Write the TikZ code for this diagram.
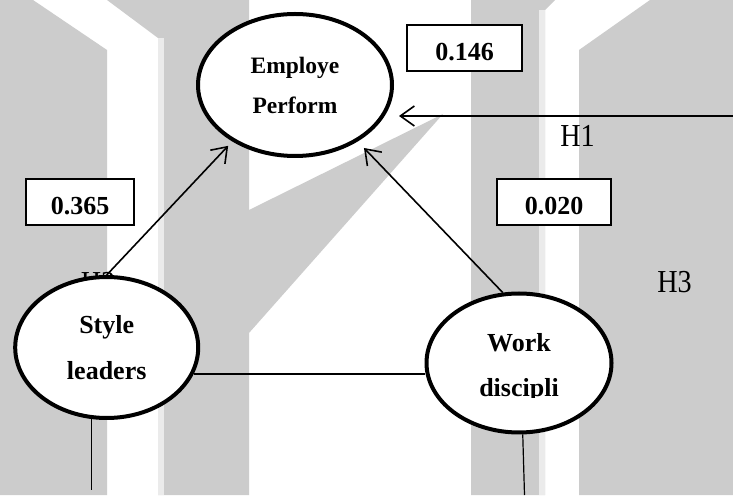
\documentclass[tikz,border=0pt]{standalone}
\usepackage{fontspec}
\setmainfont{Liberation Serif}
\usetikzlibrary{arrows.meta,shapes.geometric}
\definecolor{wmgray}{HTML}{CCCCCC}
\definecolor{wmlight}{HTML}{EBEBEB}
\tikzset{
  ellip/.style={ellipse, draw, line width=4pt, fill=white, inner sep=0pt, align=center},
  valbox/.style={rectangle, draw, line width=2.3pt, fill=white, inner sep=0pt,
    font=\bfseries\fontsize{26}{30}\selectfont, text height=26pt, text depth=0pt},
  hyp/.style={font=\fontsize{32}{36}\selectfont, inner sep=0pt},
  arr/.style={line width=1.6pt, -{Straight Barb[length=14pt,width=20pt]}},
  conn/.style={line width=1.3pt},
  thinl/.style={line width=1.2pt}
}
\begin{document}
\begin{tikzpicture}[x=1pt,y=1pt]
\useasboundingbox (0,0) rectangle (733,495);
\fill[white] (0,0) rectangle (733,495);
% watermark
\fill[wmgray] (0,0) -- (107,0) -- (107,445) -- (33,495) -- (0,495) -- cycle;
\fill[wmgray] (107,495) -- (249,495) -- (249,285) -- (443,381) -- (249,162) -- (249,0) -- (158,0) -- (158,457) -- cycle;
\fill[wmlight] (158,0) rectangle (164,457);
\fill[wmgray] (471,0) -- (471,495) -- (555,495) -- (545,485) -- (545,0) -- cycle;
\fill[wmlight] (539,0) rectangle (545,485);
\fill[wmgray] (579,0) -- (579,445) -- (650,495) -- (733,495) -- (733,0) -- cycle;
% hypothesis labels
\node[hyp] (h2) at (98,212.5) {\scalebox{0.88}[1]{H2}};
\node[hyp] (h1) at (577.5,359) {\scalebox{0.88}[1]{H1}};
\node[hyp] (h3) at (674.5,212.5) {\scalebox{0.88}[1]{H3}};
% constructs
\node[ellip, minimum width=194pt, minimum height=142pt,
  font=\bfseries\fontsize{23.5}{40}\selectfont] (ep) at (295,410) {Employe\\Perform};
\node[ellip, minimum width=183pt, minimum height=141pt,
  font=\bfseries\fontsize{26}{46}\selectfont] (sl) at (106.7,147.5) {Style\\leaders};
\node[ellip, minimum width=185pt, minimum height=139pt] (wd) at (519,132) {};
\begin{scope}
  \clip (400,97) rectangle (640,200);
  \node[font=\bfseries\fontsize{26}{44.3}\selectfont, align=center, inner sep=0pt] (wdt) at (519,127.3) {Work\\discipli};
\end{scope}
% coefficient boxes
\node[valbox, minimum width=115pt, minimum height=46pt] (b1) at (464.5,447) {0.146};
\node[valbox, minimum width=108pt, minimum height=46pt] (b2) at (80,293) {0.365};
\node[valbox, minimum width=114pt, minimum height=46pt] (b3) at (554,293) {0.020};
% connectors
\coordinate (h1s) at (733,379);
\draw[arr, shorten >=5pt] (h1s) -- (h1s -| ep.east);
\draw[arr, shorten >=6pt] (sl.north) -- (ep.222);
\draw[arr, shorten >=9pt] (wd.103) -- (ep.318);
\draw[conn] (sl.-17) -- (sl.-17 -| wd.west);
\coordinate (slend) at (92,5);
\draw[thinl] (sl.258) -- (sl.258 |- slend);
\coordinate (wdend) at (524.5,0);
\draw[thinl] (wd.273) -- (wdend);
\end{tikzpicture}
\end{document}
